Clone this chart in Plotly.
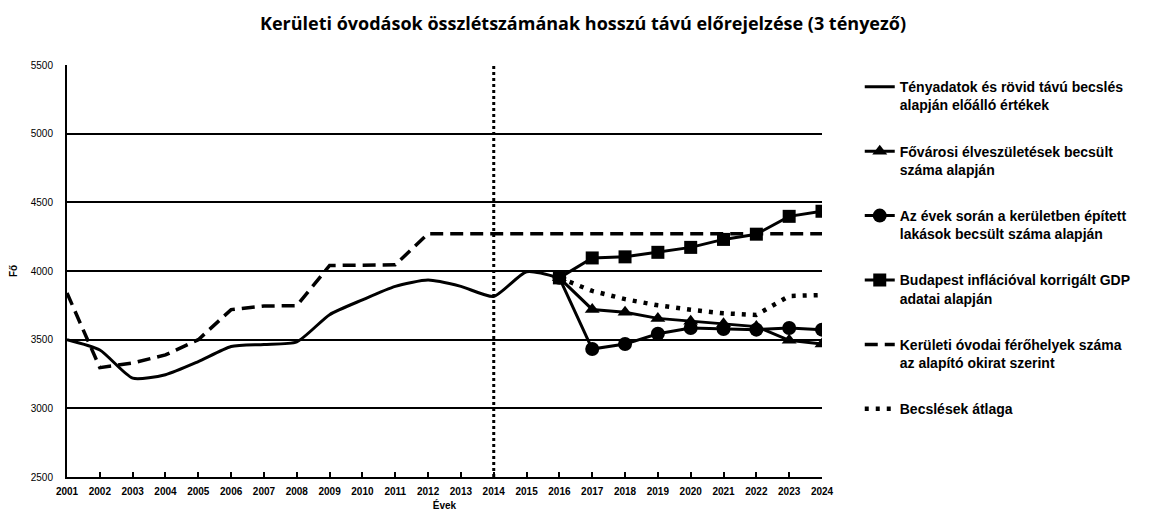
import plotly.graph_objects as go

title_text = "Kerületi óvodások összlétszámának hosszú távú előrejelzése (3 tényező)"

years_actual = list(range(2001, 2017))
actual = [3500, 3425, 3220, 3245, 3340, 3450, 3465, 3484, 3682, 3790, 3888, 3934, 3888, 3815, 3995, 3950]

years_fc = list(range(2016, 2025))
births = [3950, 3720, 3700, 3655, 3635, 3615, 3595, 3495, 3468]
housing = [3950, 3432, 3468, 3543, 3585, 3578, 3573, 3585, 3573]
gdp = [3950, 4095, 4103, 4136, 4172, 4230, 4268, 4398, 4435]
average = [3950, 3855, 3795, 3750, 3718, 3692, 3680, 3818, 3825]

years_all = list(range(2001, 2025))
capacity = [3840, 3296, 3330, 3389, 3500, 3719, 3745, 3748, 4040, 4040, 4045, 4272,
            4272, 4272, 4272, 4272, 4272, 4272, 4272, 4272, 4272, 4272, 4272, 4272]

forecast_start_year = 2014

names = [
    "Tényadatok és rövid távú becslés<br>alapján előálló értékek",
    "Fővárosi élveszületések becsült<br>száma alapján",
    "Az évek során a kerületben épített<br>lakások becsült száma alapján",
    "Budapest inflációval korrigált GDP<br>adatai alapján",
    "Kerületi óvodai férőhelyek száma<br>az alapító okirat szerint",
    "Becslések átlaga",
]


def bold(label):
    return "<b>" + label.replace("<br>", "</b><br><b>") + "</b>"


fig = go.Figure()
fig.add_trace(go.Scatter(x=years_actual, y=actual, mode="lines", name=bold(names[0]),
                         line=dict(color="black", width=3, shape="spline", smoothing=0.6),
                         legendgroup="a"))
fig.add_trace(go.Scatter(x=years_fc, y=births, mode="lines+markers", name=bold(names[1]),
                         line=dict(color="black", width=3),
                         marker=dict(symbol="triangle-up", size=13, color="black"),
                         legendgroup="b"))
fig.add_trace(go.Scatter(x=years_fc, y=housing, mode="lines+markers", name=bold(names[2]),
                         line=dict(color="black", width=3),
                         marker=dict(symbol="circle", size=14, color="black"),
                         legendgroup="c"))
fig.add_trace(go.Scatter(x=years_fc, y=gdp, mode="lines+markers", name=bold(names[3]),
                         line=dict(color="black", width=3),
                         marker=dict(symbol="square", size=13, color="black"),
                         legendgroup="d"))
fig.add_trace(go.Scatter(x=years_all, y=capacity, mode="lines", name=bold(names[4]),
                         line=dict(color="black", width=3.5, dash="13px,7px"),
                         legendgroup="e"))
fig.add_trace(go.Scatter(x=years_fc, y=average, mode="lines", name=bold(names[5]),
                         line=dict(color="black", width=4.5, dash="4px,7px"),
                         legendgroup="f"))

fig.add_shape(type="line", xref="x", yref="paper", x0=forecast_start_year, x1=forecast_start_year,
              y0=0, y1=1, line=dict(color="black", width=3, dash="3px,3px"))

fig.update_layout(
    width=1150, height=521,
    paper_bgcolor="white", plot_bgcolor="white",
    margin=dict(l=59, r=336, t=57, b=52, autoexpand=False),
    title=dict(text="<b>" + title_text + "</b>", x=0.5, xanchor="center", y=0.97, yanchor="middle",
               font=dict(family="Open Sans", size=18, color="black")),
    font=dict(family="Liberation Sans", color="black"),
    legend=dict(x=1.05, y=0.985, xanchor="left", yanchor="top", valign="top",
                font=dict(family="Liberation Sans", size=14, color="black"),
                tracegroupgap=25, bgcolor="rgba(0,0,0,0)"),
    showlegend=True,
)

fig.update_xaxes(range=[2001, 2024], tickmode="array", tickvals=years_all,
                 ticktext=["<b>" + str(y) + "</b>" for y in years_all],
                 tickfont=dict(family="Liberation Sans", size=10, color="black"),
                 ticks="inside", ticklen=5, tickcolor="black", tickwidth=1.5,
                 ticklabelstandoff=4, automargin=False,
                 showline=True, linecolor="black", linewidth=2, showgrid=False, zeroline=False,
                 title=dict(text="<b>Évek</b>", font=dict(family="Liberation Sans", size=10, color="black"),
                            standoff=6))
fig.update_yaxes(range=[2500, 5500], dtick=500, tick0=2500,
                 tickfont=dict(family="Liberation Sans", size=10, color="black"),
                 showline=True, linecolor="black", linewidth=2,
                 showgrid=True, gridcolor="black", gridwidth=1.5, zeroline=False,
                 ticks="", ticklabelstandoff=10, automargin=False,
                 title=dict(text="<b>Fő</b>", font=dict(family="Liberation Sans", size=10, color="black"),
                            standoff=18))

fig.write_html("out.html")
